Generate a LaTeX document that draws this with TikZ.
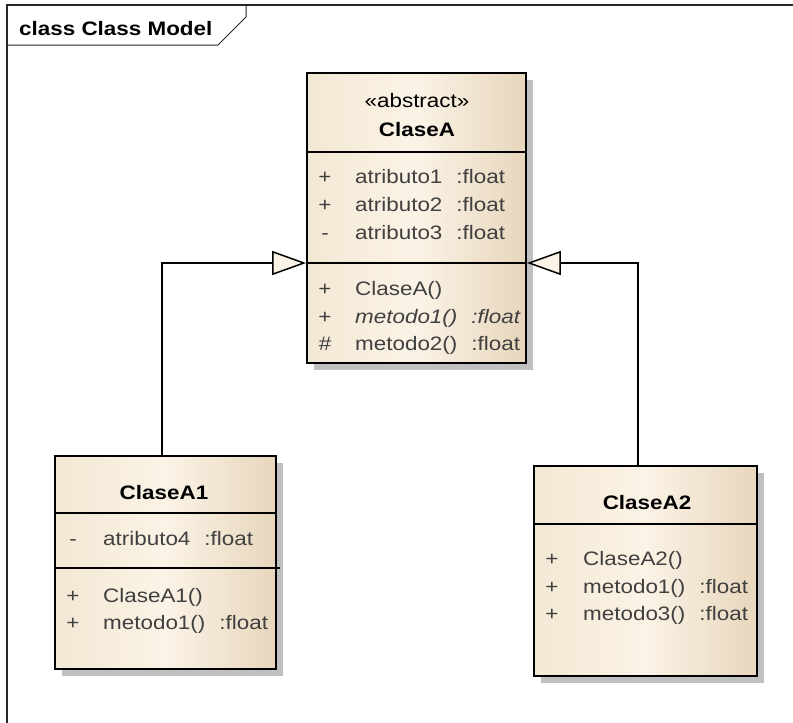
\documentclass[tikz,border=0pt]{standalone}
\usepackage{fontspec}
\setmainfont[FakeStretch=1.15]{Liberation Sans}
\usetikzlibrary{arrows.meta, shadows}

\definecolor{umlleft}{RGB}{243,232,212}
\definecolor{umlmid}{RGB}{251,243,230}
\definecolor{umlright}{RGB}{231,214,188}
\definecolor{umltext}{RGB}{64,64,64}
\definecolor{umlshadow}{RGB}{192,192,192}

\newcommand{\umlfont}{\fontsize{19.5}{22}\selectfont}
\newcommand{\ftype}{\hspace{14pt}:float}

\tikzstyle{classbox} = [rectangle, draw=black, line width=1.8pt, left color=umlleft, right color=umlright, middle color=umlmid, drop shadow={shadow xshift=6.5pt, shadow yshift=-6.5pt, fill=umlshadow, opacity=1}]
\tikzstyle{sep} = [line width=1.5pt]
\tikzstyle{vis} = [anchor=base, inner sep=0pt, text=umltext]
\tikzstyle{member} = [anchor=base west, inner sep=0pt, text=umltext]
\tikzstyle{classname} = [anchor=base, inner sep=0pt, font={\umlfont\bfseries}]
\tikzstyle{inherit} = [line width=1.5pt, -{Triangle[open, length=34pt, width=24pt, fill=umlmid]}]

\begin{document}
\begin{tikzpicture}[x=1pt, y=-1pt, font=\umlfont]
    \useasboundingbox (0,0) rectangle (793,723);

    % diagram frame and its title tab
    \draw[line width=1.2pt, black!85] (7,723) -- (7,5) -- (793,5);
    \draw[line width=1pt, black!85] (7,45) -- (218,45) -- (246,17) -- (246,5);
    \node (frametitle) [anchor=base west, inner sep=0pt, font={\umlfont\bfseries}] at (19,35) {class Class Model};

    % abstract base class
    \node (claseA) [classbox, minimum width=219pt, minimum height=290pt] at (416.5,218) {};
    \node (stereoA) [anchor=base, inner sep=0pt] at (417,107) {«abstract»};
    \node (nameA) [classname] at (417,136) {ClaseA};
    \draw[sep] (claseA.west |- 0,152) -- (claseA.east |- 0,152);
    \coordinate (opsA) at (claseA.west |- 0,263);
    \coordinate (opsAe) at (claseA.east |- 0,263);
    \draw[sep] (opsA) -- (opsAe);

    \node (visA1) [vis] at (325,183) {+};
    \node (attA1) [member] at (355,183) {atributo1\ftype};
    \node (visA2) [vis] at (325,211) {+};
    \node (attA2) [member] at (355,211) {atributo2\ftype};
    \node (visA3) [vis] at (325,239) {-};
    \node (attA3) [member] at (355,239) {atributo3\ftype};
    \node (visA4) [vis] at (325,295) {+};
    \node (opA1) [member] at (355,295) {ClaseA()};
    \node (visA5) [vis] at (325,323) {+};
    \node (opA2) [member, font={\umlfont\itshape}] at (355,323) {metodo1()\ftype};
    \node (visA6) [vis] at (325,350) {\#};
    \node (opA3) [member] at (355,350) {metodo2()\ftype};

    % first subclass
    \node (claseA1) [classbox, minimum width=221pt, minimum height=213pt] at (165.5,562.5) {};
    \node (nameA1) [classname] at (164,499) {ClaseA1};
    \draw[sep] (claseA1.west |- 0,513) -- (claseA1.east |- 0,513);
    \draw[sep] (claseA1.west |- 0,568) -- ([xshift=3pt]claseA1.east |- 0,568);

    \node (visB1) [vis] at (73,545) {-};
    \node (attB1) [member] at (103,545) {atributo4\ftype};
    \node (visB2) [vis] at (73,602) {+};
    \node (opB1) [member] at (103,602) {ClaseA1()};
    \node (visB3) [vis] at (73,629) {+};
    \node (opB2) [member] at (103,629) {metodo1()\ftype};

    % second subclass
    \node (claseA2) [classbox, minimum width=223pt, minimum height=210pt] at (645.5,571) {};
    \node (nameA2) [classname] at (647,509) {ClaseA2};
    \draw[sep] (claseA2.west |- 0,524) -- (claseA2.east |- 0,524);

    \node (visC1) [vis] at (552,565) {+};
    \node (opC1) [member] at (583,565) {ClaseA2()};
    \node (visC2) [vis] at (552,593) {+};
    \node (opC2) [member] at (583,593) {metodo1()\ftype};
    \node (visC3) [vis] at (552,620) {+};
    \node (opC3) [member] at (583,620) {metodo3()\ftype};

    % generalisations
    \draw[inherit] ([xshift=-3.5pt]claseA1.north) |- (opsA);
    \draw[inherit] ([xshift=-7.5pt]claseA2.north) |- (opsAe);

\end{tikzpicture}
\end{document}
